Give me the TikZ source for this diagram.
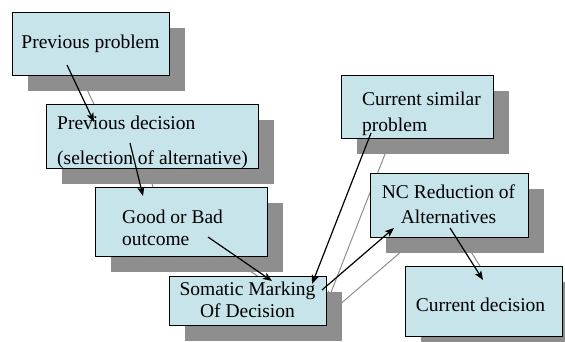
\documentclass[tikz,border=0pt]{standalone}
\usepackage{fontspec}
\setmainfont{Liberation Serif}
\usetikzlibrary{arrows.meta,shadows}

\definecolor{boxcyan}{RGB}{198,228,233}
\definecolor{shadowgray}{RGB}{142,142,142}

\tikzset{
  box/.style={draw=black, line width=0.8pt, fill=boxcyan, anchor=north west,
    inner sep=0pt, outer sep=0pt,
    drop shadow={shadow xshift=16pt, shadow yshift=-16pt, fill=shadowgray, opacity=1}},
  lbl/.style={inner sep=0pt, font=\fontsize{19.5}{23}\selectfont},
  link/.style={line width=1.2pt, -{Stealth[length=9pt,width=7pt,inset=2pt]}},
  linkshadow/.style={link, shadowgray, line width=1pt}
}

\begin{document}
\begin{tikzpicture}[x=1pt, y=-1pt]
  \useasboundingbox (0,0) rectangle (565,341);

  % arrow ends
  \coordinate (pp-out) at (67,65);
  \coordinate (pd-in)  at (94,122);
  \coordinate (pd-out) at (130,143);
  \coordinate (go-in)  at (143,196);
  \coordinate (go-out) at (208,237);
  \coordinate (sm-in)  at (272,281);
  \coordinate (cs-out) at (371,133);
  \coordinate (sm-in2) at (312,284);
  \coordinate (sm-out) at (322,290);
  \coordinate (nc-in)  at (394,228);
  \coordinate (nc-out) at (450,228);
  \coordinate (cd-in)  at (483,280);

  % shadows of the arrows
  \foreach \s/\t in {pp-out/pd-in, pd-out/go-in, go-out/sm-in,
                     cs-out/sm-in2, sm-out/nc-in, nc-out/cd-in}
    \draw[linkshadow] ([shift={(16,16)}]\s) -- ([shift={(16,16)}]\t);

  % boxes
  \node[box, minimum width=157pt, minimum height=63pt] (pp) at (12,12) {};
  \node[box, minimum width=212pt, minimum height=64pt] (pd) at (46,104) {};
  \node[box, minimum width=172pt, minimum height=69pt] (go) at (95,187) {};
  \node[box, minimum width=157pt, minimum height=49pt] (sm) at (169,276) {};
  \node[box, minimum width=152pt, minimum height=63pt] (cs) at (341,75) {};
  \node[box, minimum width=158pt, minimum height=64pt] (nc) at (370,173) {};
  \node[box, minimum width=157pt, minimum height=70pt] (cd) at (405,266) {};

  % texts (base = last line)
  \node[lbl, anchor=base] (pp-t) at (90.5,48) {Previous problem};
  \node[lbl, anchor=base west, align=left] (pd-t) at (57,164.5)
    {Previous decision\\[12.5pt](selection of alternative)};
  \node[lbl, anchor=base west, align=left] (go-t) at (122,245)
    {Good or Bad\\[-1pt]outcome};
  \node[lbl, anchor=base, align=center] (sm-t) at (247.5,317)
    {Somatic Marking\\[-1pt]Of Decision};
  \node[lbl, anchor=base west, align=left] (cs-t) at (362,131)
    {Current similar\\[2.5pt]problem};
  \node[lbl, anchor=base, align=center] (nc-t) at (448.5,223)
    {NC Reduction of\\[2pt]Alternatives};
  \node[lbl, anchor=base] (cd-t) at (480.5,311) {Current decision};

  % arrows
  \foreach \s/\t in {pp-out/pd-in, pd-out/go-in, go-out/sm-in,
                     cs-out/sm-in2, sm-out/nc-in, nc-out/cd-in}
    \draw[link] (\s) -- (\t);
\end{tikzpicture}
\end{document}
